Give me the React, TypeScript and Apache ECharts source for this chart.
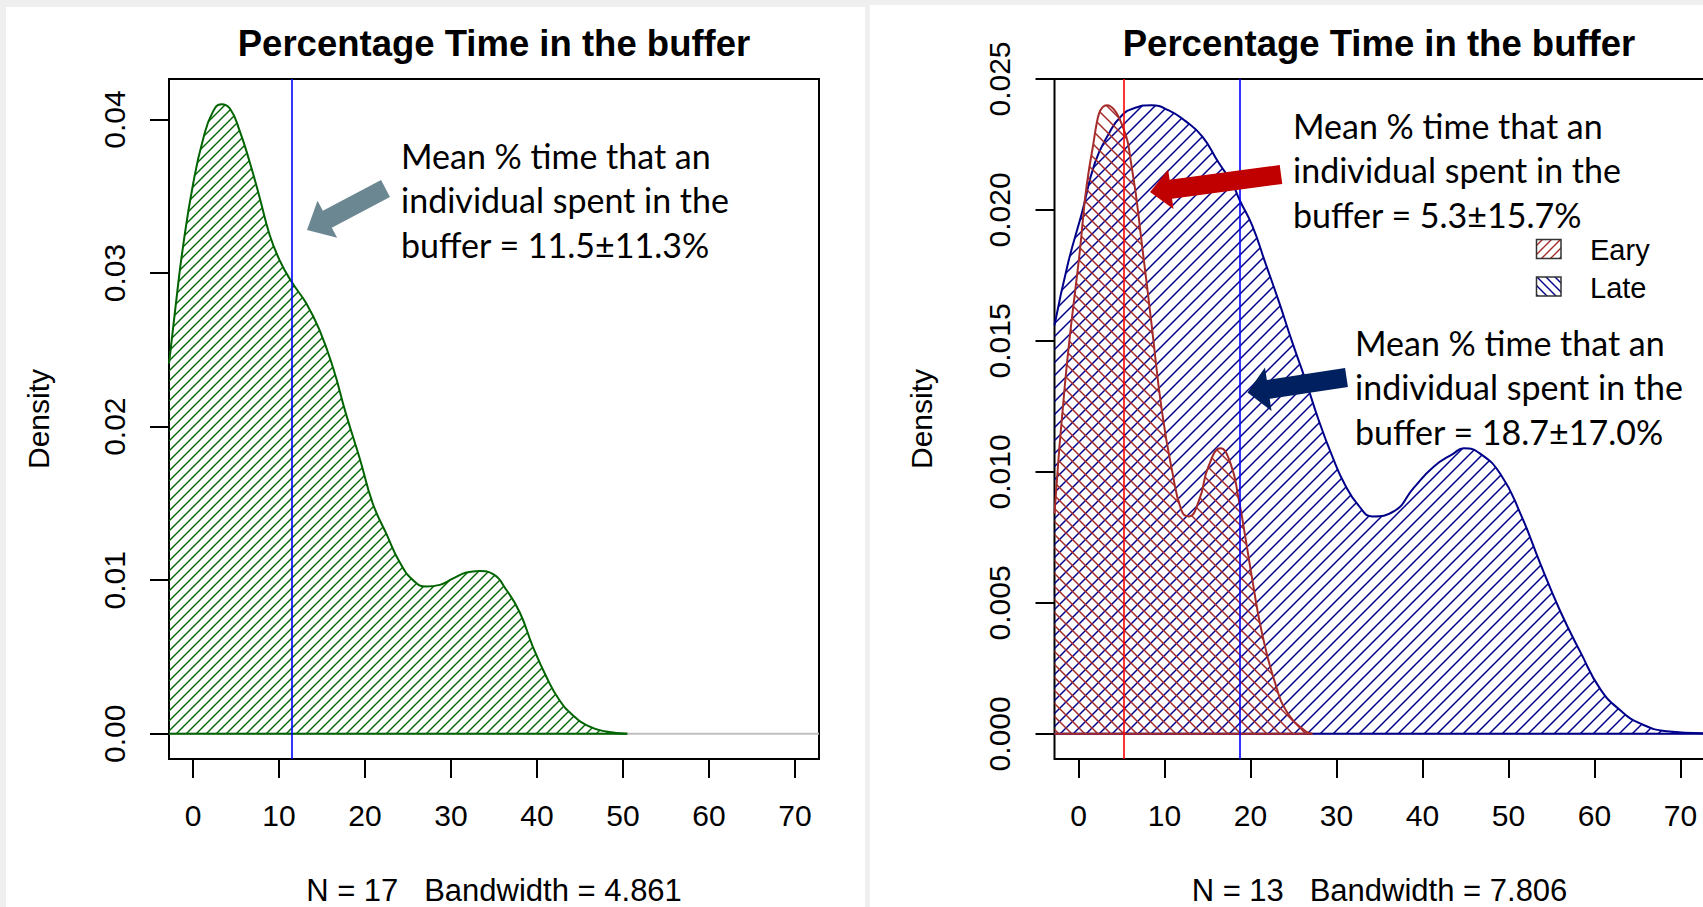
import React, { useEffect, useRef } from 'react';
import * as echarts from 'echarts';

// ---------- data ----------
const xTicks = [0, 10, 20, 30, 40, 50, 60, 70];
const xRange = [-2.8, 72.8];
const leftYTicks = [0, 0.01, 0.02, 0.03, 0.04];
const leftYRange = [-0.00164, 0.04264];
const rightYTicks = [0, 0.005, 0.01, 0.015, 0.02, 0.025];
const rightYRange = [-0.00096, 0.025];

// All individuals (left panel)
const allX = [-2.8, -2, -1.2, 0, 1.2, 2.3, 3.3, 4.3, 5.4, 6.6, 7.8, 8.9, 10.1, 11.5, 13.2, 14.7, 16.3, 17.8, 19.4, 20.9, 22.5, 24.0, 25.6, 27.1, 28.7, 30.2, 31.8, 33.3, 34.9, 36.4, 38.0, 39.5, 41.1, 42.6, 44.2, 46, 48, 50.5];
const allY = [0.0241, 0.0280, 0.0316, 0.0358, 0.0388, 0.0405, 0.0410, 0.0407, 0.0393, 0.0372, 0.0348, 0.0325, 0.0308, 0.0294, 0.0280, 0.0263, 0.0238, 0.0208, 0.0179, 0.0150, 0.0130, 0.0112, 0.0100, 0.0096, 0.0097, 0.0101, 0.0105, 0.0106, 0.0104, 0.0094, 0.0079, 0.0057, 0.0037, 0.0022, 0.0012, 0.0005, 0.00015, 0];

// Early group (right panel, red)
const earlyX = [-2.8, -1.6, 0, 1.6, 3.3, 5.0, 6.2, 7.4, 8.5, 9.7, 10.9, 12.0, 12.8, 14.0, 15.1, 16.5, 17.7, 18.6, 19.4, 20.2, 21.3, 22.9, 24.4, 26.4, 27.2];
const earlyY = [0.0084, 0.0133, 0.0180, 0.0223, 0.0240, 0.0233, 0.0216, 0.0186, 0.0156, 0.0123, 0.0100, 0.0085, 0.0083, 0.0089, 0.0102, 0.0109, 0.0103, 0.0090, 0.0075, 0.0059, 0.0039, 0.0019, 0.00075, 0.0001, 0];

// Late group (right panel, blue)
const lateX = [-2.8, -1.2, 0.4, 1.9, 3.5, 5.0, 6.6, 8.5, 10.5, 12.4, 14.4, 16.3, 17.9, 18.7, 20.2, 21.7, 23.3, 24.8, 26.4, 27.9, 29.5, 31.0, 32.6, 34.2, 36.7, 39.0, 41.3, 43.6, 44.8, 46.7, 49.1, 51.4, 53.7, 56.0, 58.4, 60.7, 63.0, 65.3, 68.4, 72.8];
const lateY = [0.0156, 0.0180, 0.0199, 0.0218, 0.0229, 0.0236, 0.0239, 0.0240, 0.0238, 0.0234, 0.0228, 0.0218, 0.0210, 0.0204, 0.0194, 0.0180, 0.0165, 0.0150, 0.0135, 0.0120, 0.0106, 0.0095, 0.0087, 0.0083, 0.0085, 0.0094, 0.0102, 0.0107, 0.0109, 0.0107, 0.0099, 0.0084, 0.0065, 0.0047, 0.0031, 0.0017, 0.0009, 0.0004, 0.0001, 0.00002];

const allMean = 11.5;
const earlyMean = 5.3;
const lateMean = 18.7;

const titleText = 'Percentage Time in the buffer';
const leftSub = 'N = 17   Bandwidth = 4.861';
const rightSub = 'N = 13   Bandwidth = 7.806';
const leftNote = 'Mean % time that an\nindividual spent in the\nbuffer = 11.5\u00b111.3%';
const earlyNote = 'Mean % time that an\nindividual spent in the\nbuffer = 5.3\u00b115.7%';
const lateNote = 'Mean % time that an\nindividual spent in the\nbuffer = 18.7\u00b117.0%';
const legendNames = ['Eary', 'Late'];

// ---------- styling helpers ----------
const RFONT = '"Liberation Sans", Arial, Helvetica, sans-serif';
const NFONT = 'Lato, "Open Sans", sans-serif';
const GREEN = '#006400';
const DRED = '#a52a2a';
const DBLUE = '#00008b';

function hatch(color: string, s: number, dir: number, lw: number) {
  const d = dir > 0
    ? `M-1,${s + 1} L${s + 1},-1 M-1,1 L1,-1 M${s - 1},${s + 1} L${s + 1},${s - 1}`
    : `M-1,-1 L${s + 1},${s + 1} M${s - 1},-1 L${s + 1},1 M-1,${s - 1} L1,${s + 1}`;
  const svg = `<svg xmlns="http://www.w3.org/2000/svg" width="${s}" height="${s}" viewBox="0 0 ${s} ${s}"><path d="${d}" stroke="${color}" stroke-width="${lw}" fill="none"/></svg>`;
  return {
    image: 'data:image/svg+xml;charset=utf-8,' + encodeURIComponent(svg),
    repeat: 'repeat',
    imageWidth: s,
    imageHeight: s,
  } as any;
}

function arrowPoints(tail: number[], tip: number[], shaftW: number, headW: number, headL: number) {
  const dx = tip[0] - tail[0], dy = tip[1] - tail[1];
  const L = Math.hypot(dx, dy);
  const ux = dx / L, uy = dy / L;
  const nx = -uy, ny = ux;
  const bx = tip[0] - ux * headL, by = tip[1] - uy * headL;
  const hs = shaftW / 2, hh = headW / 2;
  return [
    [tail[0] + nx * hs, tail[1] + ny * hs],
    [bx + nx * hs, by + ny * hs],
    [bx + nx * hh, by + ny * hh],
    [tip[0], tip[1]],
    [bx - nx * hh, by - ny * hh],
    [bx - nx * hs, by - ny * hs],
    [tail[0] - nx * hs, tail[1] - ny * hs],
  ];
}

const zip = (xs: number[], ys: number[]) => xs.map((x, i) => [x, ys[i]]);

function xAxisOpt(gridIndex: number, name: string) {
  return {
    type: 'value', gridIndex, min: xRange[0], max: xRange[1], position: 'bottom',
    axisLine: { show: false, onZero: false },
    splitLine: { show: false },
    axisTick: { show: true, customValues: xTicks, length: 19, lineStyle: { color: '#000', width: 2 } },
    axisLabel: { customValues: xTicks, color: '#000', fontSize: 30, fontFamily: RFONT, margin: 41 },
    name, nameLocation: 'middle', nameGap: 116,
    nameTextStyle: { color: '#000', fontSize: 31, fontFamily: RFONT },
  };
}

function yAxisOpt(gridIndex: number, range: number[], ticks: number[], digits: number, gap: number) {
  return {
    type: 'value', gridIndex, min: range[0], max: range[1], position: 'left',
    axisLine: { show: false, onZero: false },
    splitLine: { show: false },
    axisTick: { show: true, customValues: ticks, length: 19, lineStyle: { color: '#000', width: 2 } },
    axisLabel: {
      customValues: ticks, rotate: 90, color: '#000', fontSize: 30, fontFamily: RFONT, margin: 40,
      formatter: (v: number) => v.toFixed(digits),
    },
    name: 'Density', nameLocation: 'middle', nameRotate: 90, nameGap: gap,
    nameTextStyle: { color: '#000', fontSize: 30, fontFamily: RFONT },
  };
}

function densitySeries(idx: number, xs: number[], ys: number[], color: string, pattern: any, z: number) {
  return {
    type: 'line', xAxisIndex: idx, yAxisIndex: idx, data: zip(xs, ys),
    symbol: 'none', smooth: 0.5, silent: true, z,
    lineStyle: { color, width: 2 },
    areaStyle: { color: pattern, opacity: 1 },
  };
}

function baseSeries(idx: number, x0: number, x1: number, color: string, z: number) {
  return {
    type: 'line', xAxisIndex: idx, yAxisIndex: idx, data: [[x0, 0], [x1, 0]],
    symbol: 'none', silent: true, z, lineStyle: { color, width: 2 },
  };
}

function textEl(text: string, x: number, y: number, font: string, extra: any = {}) {
  return {
    type: 'text', x, y, z: 20, silent: true,
    style: { text, font, fill: '#000', ...extra },
  };
}

export default function App() {
  const ref = useRef<HTMLDivElement>(null);

  useEffect(() => {
    document.body.style.margin = '0';
    const chart = echarts.init(ref.current!, null, { renderer: 'svg' });

    const greenPat = hatch(GREEN, 10, 1, 1.4);
    const bluePat = hatch(DBLUE, 13, 1, 1.5);
    const redPat = hatch(DRED, 13, -1, 1.5);
    const legRed = hatch(DRED, 9, 1, 1.4);
    const legBlue = hatch(DBLUE, 9, -1, 1.4);

    const noteStyle = { lineHeight: 44.5, verticalAlign: 'top', textVerticalAlign: 'top', align: 'left', textAlign: 'left' };
    const centerStyle = { align: 'center', textAlign: 'center', verticalAlign: 'middle', textVerticalAlign: 'middle' };
    const leftStyle = { align: 'left', textAlign: 'left', verticalAlign: 'middle', textVerticalAlign: 'middle' };

    const option: any = {
      animation: false,
      backgroundColor: '#efefef',
      grid: [
        { left: 169, top: 79, width: 650, height: 680, show: true, borderColor: '#000', borderWidth: 2, backgroundColor: 'transparent', containLabel: false, outerBoundsMode: 'none' },
        { left: 1054.5, top: 79, width: 650, height: 680, show: true, borderColor: '#000', borderWidth: 2, backgroundColor: 'transparent', containLabel: false, outerBoundsMode: 'none' },
      ],
      xAxis: [xAxisOpt(0, leftSub), xAxisOpt(1, rightSub)],
      yAxis: [
        yAxisOpt(0, leftYRange, leftYTicks, 2, 116),
        yAxisOpt(1, rightYRange, rightYTicks, 3, 118),
      ],
      series: [
        baseSeries(0, xRange[0], xRange[1], '#bebebe', 1),
        {
          ...densitySeries(0, allX, allY, GREEN, greenPat, 2),
          markLine: {
            silent: true, symbol: ['none', 'none'], label: { show: false }, z: 5,
            lineStyle: { color: '#0000ff', width: 1.6, type: 'solid' },
            emphasis: { disabled: true },
            data: [{ xAxis: allMean }],
          },
        },
        baseSeries(0, allX[0], allX[allX.length - 1], GREEN, 3),

        baseSeries(1, xRange[0], xRange[1], '#bebebe', 1),
        densitySeries(1, lateX, lateY, DBLUE, bluePat, 2),
        baseSeries(1, lateX[0], lateX[lateX.length - 1], DBLUE, 3),
        {
          ...densitySeries(1, earlyX, earlyY, DRED, redPat, 3),
          markLine: {
            silent: true, symbol: ['none', 'none'], label: { show: false }, z: 5,
            lineStyle: { width: 1.6, type: 'solid' },
            emphasis: { disabled: true },
            data: [
              { xAxis: earlyMean, lineStyle: { color: '#ff0000', width: 1.6, type: 'solid' } },
              { xAxis: lateMean, lineStyle: { color: '#0000ff', width: 1.6, type: 'solid' } },
            ],
          },
        },
        baseSeries(1, earlyX[0], earlyX[earlyX.length - 1], DRED, 4),
      ],
      graphic: [
        { type: 'rect', z: -10, silent: true, shape: { x: 6, y: 7, width: 859, height: 900 }, style: { fill: '#fff' } },
        { type: 'rect', z: -10, silent: true, shape: { x: 870, y: 5, width: 833, height: 902 }, style: { fill: '#fff' } },

        textEl(titleText, 494, 43, `bold 36.5px ${RFONT}`, centerStyle),
        textEl(titleText, 1379, 43, `bold 36.5px ${RFONT}`, centerStyle),

        textEl(leftNote, 401, 133, `34px ${NFONT}`, noteStyle),
        textEl(earlyNote, 1293, 103, `34px ${NFONT}`, noteStyle),
        textEl(lateNote, 1355, 320, `34px ${NFONT}`, noteStyle),

        { type: 'polygon', z: 15, silent: true, shape: { points: arrowPoints([385.5, 188.5], [307, 230], 19, 42, 23) }, style: { fill: '#6b8792' } },
        { type: 'polygon', z: 15, silent: true, shape: { points: arrowPoints([1281, 174.5], [1150, 192], 19, 40, 21) }, style: { fill: '#c00000' } },
        { type: 'polygon', z: 15, silent: true, shape: { points: arrowPoints([1346.5, 377.5], [1247.5, 392.5], 19, 44, 21) }, style: { fill: '#002060' } },

        { type: 'rect', z: 15, silent: true, shape: { x: 1536.5, y: 239.5, width: 24.5, height: 19 }, style: { fill: legRed, stroke: '#333', lineWidth: 1.5 } },
        { type: 'rect', z: 15, silent: true, shape: { x: 1536.5, y: 277, width: 24.5, height: 19 }, style: { fill: legBlue, stroke: '#333', lineWidth: 1.5 } },
        textEl(legendNames[0], 1590, 250, `29px ${RFONT}`, leftStyle),
        textEl(legendNames[1], 1590, 288, `29px ${RFONT}`, leftStyle),
      ],
    };

    chart.setOption(option);
    return () => chart.dispose();
  }, []);

  return <div ref={ref} style={{ position: 'fixed', left: 0, top: 0, width: 1703, height: 907 }} />;
}
